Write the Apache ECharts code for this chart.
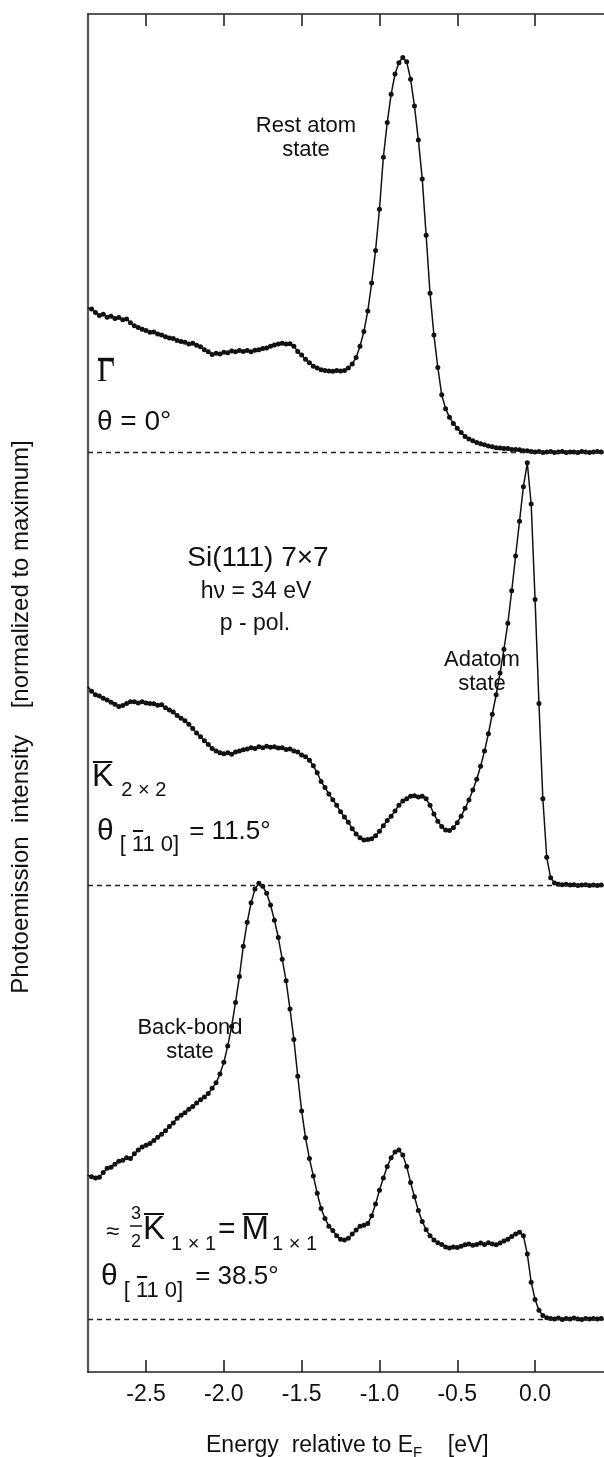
<!DOCTYPE html>
<html>
<head>
<meta charset="utf-8">
<script src="https://cdn.jsdelivr.net/npm/echarts@6/dist/echarts.min.js"></script>
<style>
  html, body { margin: 0; padding: 0; background: #ffffff; }
  #chart { width: 604px; height: 1457px; }
</style>
</head>
<body>
<div id="chart"></div>
<script>
// Energy grid of the spectra (eV relative to E_F)
const energies = [
  -2.875,-2.85,-2.825,-2.8,-2.775,-2.75,-2.725,-2.7,-2.675,-2.65,
  -2.625,-2.6,-2.575,-2.55,-2.525,-2.5,-2.475,-2.45,-2.425,-2.4,
  -2.375,-2.35,-2.325,-2.3,-2.275,-2.25,-2.225,-2.2,-2.175,-2.15,
  -2.125,-2.1,-2.075,-2.05,-2.025,-2,-1.975,-1.95,-1.925,-1.9,
  -1.875,-1.85,-1.825,-1.8,-1.775,-1.75,-1.725,-1.7,-1.675,-1.65,
  -1.625,-1.6,-1.575,-1.55,-1.525,-1.5,-1.475,-1.45,-1.425,-1.4,
  -1.375,-1.35,-1.325,-1.3,-1.275,-1.25,-1.225,-1.2,-1.175,-1.15,
  -1.125,-1.1,-1.075,-1.05,-1.025,-1,-0.975,-0.95,-0.925,-0.9,
  -0.875,-0.85,-0.825,-0.8,-0.775,-0.75,-0.725,-0.7,-0.675,-0.65,
  -0.625,-0.6,-0.575,-0.55,-0.525,-0.5,-0.475,-0.45,-0.425,-0.4,
  -0.375,-0.35,-0.325,-0.3,-0.275,-0.25,-0.225,-0.2,-0.175,-0.15,
  -0.125,-0.1,-0.075,-0.05,-0.025,0,0.025,0.05,0.075,0.1,
  0.125,0.15,0.175,0.2,0.225,0.25,0.275,0.3,0.325,0.35,
  0.375,0.4,0.425
];

// Gamma-bar, theta = 0 deg (rest atom state)
const gammaIntensity = [
  0.332,0.330,0.322,0.315,0.318,0.311,0.313,0.308,0.310,0.305,
  0.307,0.298,0.291,0.287,0.283,0.280,0.276,0.277,0.272,0.270,
  0.266,0.263,0.262,0.257,0.255,0.253,0.249,0.251,0.246,0.243,
  0.236,0.231,0.225,0.228,0.226,0.230,0.229,0.233,0.231,0.234,
  0.232,0.234,0.231,0.235,0.236,0.239,0.240,0.244,0.247,0.249,
  0.251,0.249,0.250,0.244,0.232,0.224,0.214,0.206,0.198,0.194,
  0.190,0.188,0.187,0.186,0.188,0.187,0.188,0.194,0.203,0.218,
  0.244,0.278,0.325,0.390,0.465,0.560,0.680,0.760,0.825,0.872,
  0.898,0.910,0.900,0.860,0.798,0.720,0.630,0.500,0.366,0.270,
  0.195,0.132,0.100,0.080,0.066,0.055,0.045,0.036,0.030,0.026,
  0.022,0.019,0.017,0.014,0.012,0.010,0.009,0.008,0.008,0.006,
  0.006,0.005,0.003,0.003,0.001,0.000,0.001,-0.001,0.000,0.001,
  -0.001,0.000,0.001,-0.001,0.000,0.000,-0.001,0.001,0.000,-0.001,
  0.000,0.001,0.000
];

// K-bar 2x2, theta = 11.5 deg (adatom state)
const k2x2Intensity = [
  0.459,0.448,0.440,0.437,0.432,0.428,0.423,0.418,0.413,0.415,
  0.420,0.424,0.424,0.421,0.424,0.421,0.420,0.419,0.416,0.417,
  0.410,0.405,0.400,0.392,0.386,0.380,0.372,0.362,0.352,0.343,
  0.334,0.325,0.316,0.310,0.306,0.304,0.306,0.303,0.308,0.310,
  0.313,0.315,0.318,0.316,0.320,0.318,0.321,0.319,0.320,0.317,
  0.318,0.314,0.315,0.310,0.308,0.301,0.297,0.289,0.276,0.260,
  0.240,0.226,0.211,0.198,0.185,0.170,0.158,0.146,0.131,0.119,
  0.110,0.105,0.106,0.108,0.115,0.125,0.138,0.150,0.160,0.172,
  0.185,0.195,0.200,0.206,0.207,0.204,0.206,0.200,0.185,0.165,
  0.148,0.136,0.128,0.127,0.133,0.145,0.160,0.178,0.197,0.220,
  0.245,0.275,0.310,0.350,0.395,0.440,0.490,0.545,0.605,0.680,
  0.760,0.840,0.920,0.975,0.880,0.660,0.420,0.200,0.065,0.018,
  0.006,0.003,0.002,0.003,0.001,0.002,0.000,0.001,0.002,0.000,
  0.001,0.000,0.001
];

// M-bar 1x1, theta = 38.5 deg (back-bond state)
const m1x1Intensity = [
  0.332,0.328,0.325,0.327,0.338,0.348,0.350,0.357,0.364,0.366,
  0.372,0.370,0.381,0.390,0.397,0.401,0.405,0.412,0.419,0.426,
  0.434,0.444,0.452,0.463,0.470,0.476,0.484,0.490,0.498,0.506,
  0.512,0.520,0.532,0.545,0.565,0.592,0.630,0.675,0.730,0.790,
  0.860,0.915,0.960,0.992,1.005,0.998,0.982,0.955,0.920,0.880,
  0.830,0.780,0.715,0.645,0.560,0.480,0.418,0.370,0.330,0.290,
  0.255,0.232,0.214,0.204,0.192,0.184,0.182,0.186,0.196,0.205,
  0.214,0.216,0.220,0.238,0.265,0.297,0.325,0.352,0.372,0.385,
  0.390,0.378,0.352,0.315,0.282,0.250,0.225,0.206,0.192,0.182,
  0.176,0.172,0.166,0.164,0.166,0.165,0.168,0.171,0.173,0.170,
  0.172,0.175,0.172,0.176,0.173,0.171,0.175,0.180,0.184,0.190,
  0.196,0.200,0.192,0.150,0.085,0.045,0.020,0.008,0.003,0.001,
  0.000,0.002,-0.001,0.001,0.000,0.002,0.000,-0.001,0.001,0.000,
  0.001,0.000,0.001
];

// Vertical offset (baseline) of each stacked spectrum
const spectrumNames = ['Gamma', 'K2x2', 'M1x1'];
const spectrumOffsets = [2, 1, 0];
const energyTicks = [-2.5, -2.0, -1.5, -1.0, -0.5, 0.0];

// Plot window
const X_MIN = -2.873, X_MAX = 0.443;
const Y_MIN = -0.1223, Y_MAX = 3.0104;

const SANS = "'Liberation Sans', Arial, Helvetica, sans-serif";
const SERIF = "'Liberation Serif', 'Times New Roman', serif";
const INK = '#111111';

const chart = echarts.init(document.getElementById('chart'), null, { renderer: 'canvas', width: 604, height: 1457 });

// text measuring for inline formula pieces
const mctx = document.createElement('canvas').getContext('2d');
function textWidth(str, size, family) {
  mctx.font = size + 'px ' + family;
  return mctx.measureText(str).width;
}

function txt(x, y, text, size, opts) {
  opts = opts || {};
  return {
    type: 'text', x: x, y: y, silent: true,
    rotation: opts.rotation || 0,
    style: {
      text: text,
      font: (opts.weight ? opts.weight + ' ' : '') + size + 'px ' + (opts.family || SANS),
      fill: INK,
      textAlign: opts.align || 'left',
      textVerticalAlign: 'middle'
    }
  };
}
function bar(x1, x2, y, w) {
  return { type: 'line', silent: true, shape: { x1: x1, y1: y, x2: x2, y2: y }, style: { stroke: INK, lineWidth: w || 2 } };
}

// Lay out a row of text pieces left to right; each piece: text, size, dy, family, overline
function inlineRow(x, y, pieces) {
  const els = [];
  let cx = x;
  pieces.forEach(p => {
    const fam = p.family || SANS;
    const w = textWidth(p.text, p.size, fam);
    els.push(txt(cx, y + (p.dy || 0), p.text, p.size, { family: fam }));
    if (p.overline) {
      const o = p.overline;
      const sx = cx + (o.from ? textWidth(p.text.slice(0, o.from), p.size, fam) : 0);
      const ex = o.to != null ? cx + textWidth(p.text.slice(0, o.to), p.size, fam) : cx + w;
      els.push(bar(sx + (o.pad || 1), ex - (o.pad || 1), y + (p.dy || 0) + o.dy, o.w || 2));
    }
    cx += w + (p.gap || 0);
  });
  return els;
}

const annotations = [].concat(
  // top panel
  [txt(306, 126, 'Rest atom', 22, { align: 'center' }), txt(306, 150, 'state', 22, { align: 'center' })],
  inlineRow(97, 373, [{ text: 'Γ', size: 31, family: SERIF, overline: { dy: -14, pad: 0, w: 2.4 } }]),
  [txt(97, 422, 'θ = 0°', 28)],
  // middle panel
  [txt(258, 558, 'Si(111) 7×7', 28, { align: 'center' }),
   txt(256, 592, 'hν = 34 eV', 23, { align: 'center' }),
   txt(255, 624, 'p - pol.', 23, { align: 'center' }),
   txt(482, 660, 'Adatom', 22, { align: 'center' }),
   txt(482, 684, 'state', 22, { align: 'center' })],
  inlineRow(92, 777, [
    { text: 'K', size: 32, overline: { dy: -15, pad: 1 }, gap: 8 },
    { text: '2 × 2', size: 20, dy: 13 }
  ]),
  inlineRow(97, 832, [
    { text: 'θ', size: 30, gap: 6 },
    { text: '[ 11 0]', size: 22, dy: 13, overline: { from: 2, to: 3, dy: -14, pad: 1 }, gap: 10 },
    { text: '= 11.5°', size: 26 }
  ]),
  // bottom panel
  [txt(190, 1028, 'Back-bond', 22, { align: 'center' }), txt(190, 1052, 'state', 22, { align: 'center' })],
  [txt(106, 1232, '≈', 24),
   txt(136, 1214, '3', 18, { align: 'center' }),
   bar(130, 142, 1226, 1.5),
   txt(136, 1242, '2', 18, { align: 'center' })],
  inlineRow(143, 1230, [
    { text: 'K', size: 33, overline: { dy: -16, pad: 1 }, gap: 6 },
    { text: '1 × 1', size: 20, dy: 14, gap: 2 },
    { text: '=', size: 30, gap: 6 },
    { text: 'M', size: 33, overline: { dy: -16, pad: 1 }, gap: 3 },
    { text: '1 × 1', size: 20, dy: 14 }
  ]),
  inlineRow(101, 1277, [
    { text: 'θ', size: 30, gap: 6 },
    { text: '[ 11 0]', size: 22, dy: 14, overline: { from: 2, to: 3, dy: -14, pad: 1 }, gap: 12 },
    { text: '= 38.5°', size: 26 }
  ]),
  // axis titles
  inlineRow(206, 1446, [
    { text: 'Energy  relative to E', size: 23, gap: 0 },
    { text: 'F', size: 15, dy: 7, gap: 0 },
    { text: '    [eV]', size: 23 }
  ]),
  [txt(21, 717, 'Photoemission  intensity    [normalized to maximum]', 24, { align: 'center', rotation: Math.PI / 2 })]
);

const spectra = [gammaIntensity, k2x2Intensity, m1x1Intensity];

const series = spectra.map((vals, s) => ({
  name: spectrumNames[s],
  type: 'line',
  xAxisIndex: 0,
  data: energies.map((e, i) => [e, spectrumOffsets[s] + vals[i]]),
  symbol: 'circle',
  symbolSize: 5,
  showSymbol: true,
  clip: true,
  itemStyle: { color: INK },
  lineStyle: { color: INK, width: 1.5 },
  markLine: {
    silent: true,
    symbol: 'none',
    label: { show: false },
    lineStyle: { color: '#222', width: 1.3, type: [5, 4] },
    data: [{ yAxis: spectrumOffsets[s] }]
  },
  z: 3
}));

const axisCommon = {
  type: 'value',
  min: X_MIN,
  max: X_MAX,
  splitLine: { show: false },
  axisLine: { show: true, onZero: false, lineStyle: { color: '#222', width: 1.6 } },
  axisTick: { show: true, inside: true, length: 12, customValues: energyTicks, lineStyle: { color: '#222', width: 1.6 } }
};

const option = {
  animation: false,
  backgroundColor: '#ffffff',
  grid: { left: 88, top: 14, right: 0, bottom: 85, containLabel: false },
  xAxis: [
    Object.assign({}, axisCommon, {
      position: 'bottom',
      axisLabel: {
        show: true, customValues: energyTicks, margin: 11,
        formatter: v => v.toFixed(1),
        fontSize: 23, fontFamily: SANS, color: INK
      }
    }),
    Object.assign({}, axisCommon, { position: 'top', axisLabel: { show: false } })
  ],
  yAxis: {
    type: 'value', min: Y_MIN, max: Y_MAX, position: 'left',
    axisLine: { show: true, onZero: false, lineStyle: { color: '#555', width: 2.2 } },
    axisTick: { show: false },
    axisLabel: { show: false },
    splitLine: { show: false }
  },
  series: series,
  graphic: { elements: annotations }
};

chart.setOption(option);
</script>
</body>
</html>
